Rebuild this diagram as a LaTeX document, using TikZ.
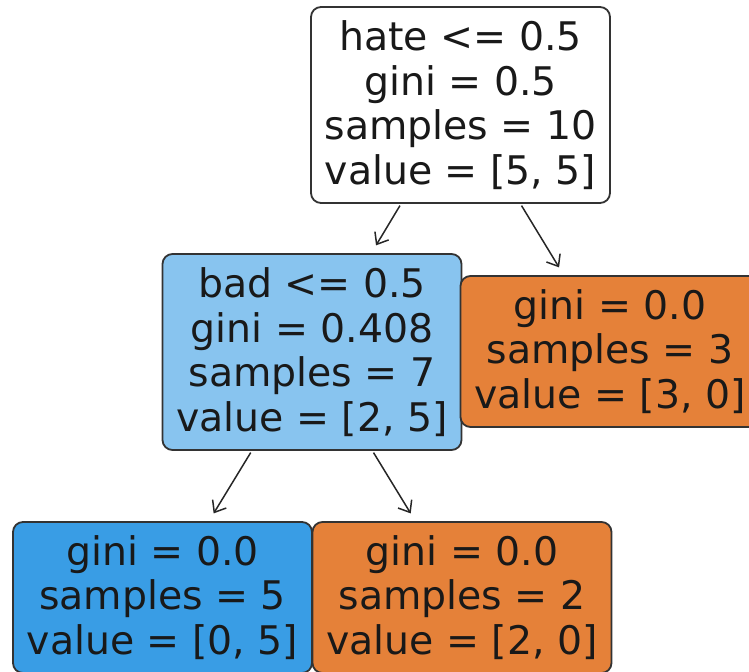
\documentclass[tikz,border=0pt]{standalone}
\usepackage{fontspec}
\setmainfont{DejaVu Sans}
\usetikzlibrary{arrows.meta}
\definecolor{dtlightblue}{RGB}{136,196,239}
\definecolor{dtblue}{RGB}{57,157,229}
\definecolor{dtorange}{RGB}{229,129,57}
\tikzset{
  dt box/.style={
    rectangle,rounded corners=5pt,draw=black!80,line width=0.9pt,
    minimum width=149.5pt,minimum height=98pt,inner sep=0pt,align=center,
    font=\fontsize{19.7}{22.35}\selectfont,text=black!90
  },
  dt leaf/.style={dt box,minimum height=75.5pt},
  dt edge/.style={black!85,line width=0.75pt,
    -{Straight Barb[length=5pt,width=8pt]},shorten <=1pt,shorten >=4.5pt}
}

\begin{document}
\begin{tikzpicture}[x=0.5pt,y=-0.5pt]
  \useasboundingbox (0,0) rectangle (749,672);
  \clip (0,0) rectangle (749,672);
  \node[dt box,fill=white] (hate) at (460.5,105)
    {hate <= 0.5\\gini = 0.5\\samples = 10\\value = [5, 5]};
  \node[dt box,fill=dtlightblue] (bad) at (312,352)
    {bad <= 0.5\\gini = 0.408\\samples = 7\\value = [2, 5]};
  \node[dt leaf,fill=dtorange] (leafr) at (610,351.5)
    {gini = 0.0\\samples = 3\\value = [3, 0]};
  \node[dt leaf,fill=dtblue] (leafb) at (162.5,597.5)
    {gini = 0.0\\samples = 5\\value = [0, 5]};
  \node[dt leaf,fill=dtorange] (leafo) at (462,597.5)
    {gini = 0.0\\samples = 2\\value = [2, 0]};
  \draw[dt edge] (hate) -- (bad);
  \draw[dt edge] (hate) -- (leafr);
  \draw[dt edge] (bad) -- (leafb);
  \draw[dt edge] (bad) -- (leafo);
\end{tikzpicture}
\end{document}
